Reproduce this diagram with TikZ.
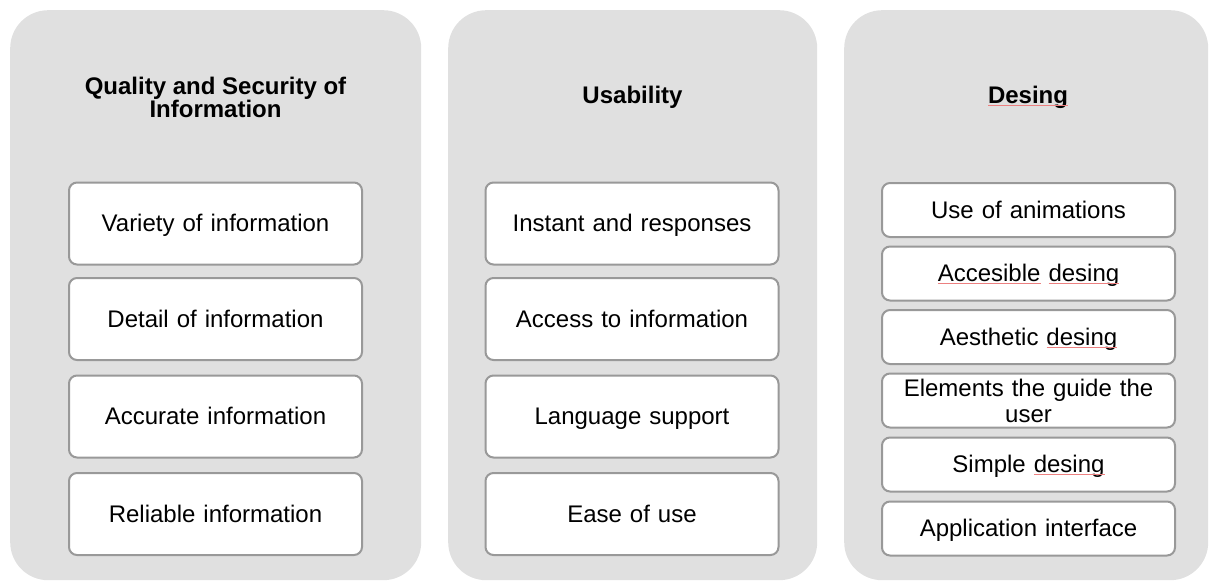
\documentclass[tikz,border=0pt]{standalone}
\usepackage{fontspec}
\setmainfont{Liberation Sans}
\definecolor{panelgray}{HTML}{E0E0E0}
\definecolor{boxgray}{HTML}{999999}
\definecolor{errred}{HTML}{EC8080}
\newcommand\sperr[1]{\leavevmode\setbox0\hbox{#1}\rlap{\usebox0}\raisebox{-2.5pt}{\textcolor{errred}{\rule{\wd0}{0.9pt}}}}
\begin{document}
\begin{tikzpicture}[x=1pt,y=-1pt,
  panel/.style={fill=panelgray, rounded corners=38pt, inner sep=0pt, anchor=north west},
  item/.style={draw=boxgray, line width=2pt, fill=white, rounded corners=8pt,
    minimum width=293pt, text width=285pt, align=center, inner sep=0pt,
    font=\fontsize{24}{26}\selectfont},
  oneline/.style={text height=18.5pt, text depth=2.5pt},
  bigitem/.style={item, oneline, minimum height=82pt},
  smallitem/.style={item, oneline, minimum height=54pt},
  title/.style={font=\bfseries\fontsize{24}{23}\selectfont, align=center}]
\useasboundingbox (0,0) rectangle (1209,581);
% panels
\node[panel, minimum width=411pt, minimum height=570pt] (p1) at (10,10) {};
\node[panel, minimum width=369pt, minimum height=570pt] (p2) at (448,10) {};
\node[panel, minimum width=364pt, minimum height=570pt] (p3) at (844,10) {};
% titles
\node[title] (t1) at (215.5,97) {Quality and Security of\\Information};
\node[title] (t2) at (632.5,97) {Usability};
\node[title] (t3) at (1028,97) {\sperr{Desing}};
% panel 1
\node[bigitem] (a1) at (215.5,223.5) {Variety of information};
\node[bigitem] (a2) at (215.5,319) {Detail of information};
\node[bigitem] (a3) at (215.5,416.5) {Accurate information};
\node[bigitem] (a4) at (215.5,514) {Reliable information};
% panel 2
\node[bigitem] (b1) at (632,223.5) {Instant and responses};
\node[bigitem] (b2) at (632,319) {Access to information};
\node[bigitem] (b3) at (632,416.5) {Language support};
\node[bigitem] (b4) at (632,514) {Ease of use};
% panel 3
\node[smallitem] (c1) at (1028.5,210) {Use of animations};
\node[smallitem] (c2) at (1028.5,273.5) {\sperr{Accesible} \sperr{desing}};
\node[smallitem] (c3) at (1028.5,337) {Aesthetic \sperr{desing}};
\node[item, minimum height=54pt] (c4) at (1028.5,400.5) {Elements the guide the\\user};
\node[smallitem] (c5) at (1028.5,464.5) {Simple \sperr{desing}};
\node[smallitem] (c6) at (1028.5,528.5) {Application interface};
\end{tikzpicture}
\end{document}
